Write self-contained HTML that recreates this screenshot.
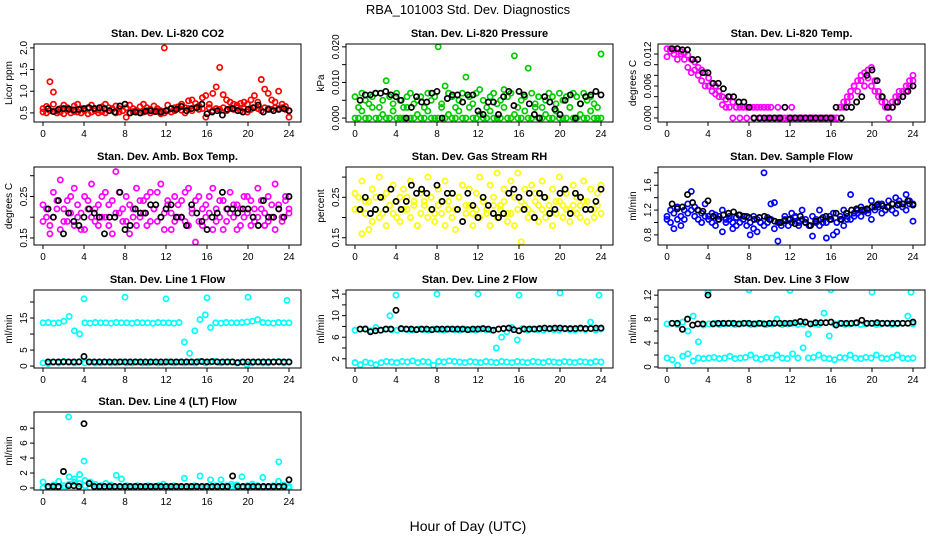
<!DOCTYPE html>
<html><head><meta charset="utf-8"><style>
body{margin:0;background:#fff}
svg{display:block;font-family:"Liberation Sans",sans-serif}
</style></head><body>
<svg id="c" width="936" height="540" viewBox="0 0 936 540">
<rect width="936" height="540" fill="#fff"/>
<text x="468" y="14" text-anchor="middle" font-size="13">RBA_101003  Std. Dev. Diagnostics</text>
<text x="468" y="531" text-anchor="middle" font-size="14">Hour of Day (UTC)</text>
</svg>
<script>
const xTicks=[0,4,8,12,16,20,24];
// CO2
const co2A=[0.6,0.65,1.22,0.7,0.55,0.6,0.68,0.62,0.58,0.66,0.7,0.6,0.55,0.62,0.68,0.6,0.57,0.64,0.7,0.62,0.58,0.66,0.6,0.55,0.62,0.68,0.6,0.52,0.64,0.7,0.62,0.58,0.66,0.6,0.55,2.0,0.68,0.6,0.62,0.64,0.7,0.62,0.78,0.8,0.72,0.66,0.85,0.9,0.7,0.95,1.1,1.55,0.92,0.8,0.75,0.7,0.68,0.72,0.75,0.7,0.8,0.9,0.75,1.27,1.05,0.95,0.8,0.75,1.0,0.7,0.65,0.4];
const co2B=[0.52,0.5,0.55,0.98,0.5,0.52,0.48,0.55,0.5,0.53,0.52,0.5,0.56,0.48,0.52,0.55,0.5,0.53,0.5,0.55,0.6,0.5,0.52,0.55,0.4,0.5,0.53,0.56,0.5,0.52,0.55,0.5,0.53,0.55,0.48,0.5,0.55,0.52,0.55,0.6,0.56,0.5,0.6,0.55,0.62,0.58,0.6,0.4,0.62,0.55,0.6,0.58,0.62,0.55,0.6,0.58,0.62,0.55,0.6,0.52,0.58,0.62,0.6,0.55,0.62,0.6,0.58,0.62,0.6,0.62,0.58,0.55];
const co2K=[0.6,0.53,0.58,0.6,0.59,0.57,0.58,0.6,0.62,0.6,0.62,0.6,0.55,0.52,0.66,0.7,0.5,0.52,0.5,0.54,0.55,0.53,0.52,0.55,0.6,0.58,0.65,0.55,0.6,0.62,0.7,0.48,0.52,0.55,0.45,0.58,0.6,0.55,0.52,0.58,0.62,0.68,0.52,0.58,0.55,0.58,0.6,0.55];
// Pressure
const prA=[0.006,0.003,0.007,0.005,0.004,0.006,0.007,0.003,0.005,0.0105,0.006,0.004,0.007,0.005,0.003,0.006,0.007,0.004,0.005,0.006,0.003,0.007,0.005,0.006,0.02,0.004,0.009,0.007,0.006,0.003,0.005,0.007,0.0115,0.006,0.004,0.007,0.008,0.005,0.003,0.006,0.007,0.004,0.005,0.008,0.006,0.007,0.0175,0.003,0.005,0.006,0.014,0.007,0.004,0.006,0.003,0.005,0.007,0.006,0.004,0.007,0.005,0.006,0.003,0.007,0.006,0.004,0.007,0.005,0.006,0.004,0.003,0.018];
const prB=[0,0,0.002,0,0,0.003,0,0,0.001,0,0,0.002,0,0,0,0.003,0,0,0.001,0,0,0.002,0,0,0,0.003,0,0.001,0,0,0.002,0,0,0.003,0,0,0.001,0,0,0.002,0,0,0,0.003,0,0,0.001,0,0,0.002,0,0,0.003,0,0,0.001,0,0,0.002,0,0,0,0.003,0,0,0.001,0,0,0.002,0,0,0];
const prK=[0.005,0.0065,0.0065,0.007,0.007,0.0075,0.0065,0.006,0.005,0,0.003,0.006,0.0045,0.0045,0.007,0.0075,0,0.0055,0.0065,0.0065,0.0045,0.0065,0.0065,0.002,0.001,0.0045,0.0045,0.001,0.006,0.0075,0.0035,0.0075,0.0065,0.004,0.001,0,0.006,0.0045,0.0025,0.001,0.005,0.0065,0,0.004,0.006,0.0065,0.0075,0.0065];
// Li-820 temp
const ltA=[0.0115,0.013,0.0128,0.013,0.0125,0.0122,0.0118,0.011,0.0105,0.0095,0.009,0.0085,0.0075,0.0065,0.006,0.005,0.004,0.0035,0.004,0.003,0.002,0.002,0.002,0.002,0.002,0.002,0.002,0.002,0.002,0.002,0.002,0,0.002,0,0.002,0,0.002,0,0,0,0,0,0,0,0,0,0,0,0,0,0.002,0.003,0.004,0.005,0.006,0.007,0.008,0.0085,0.009,0.0095,0.007,0.005,0.004,0.003,0.002,0.003,0.004,0.005,0.005,0.006,0.007,0.008];
const ltB=[0.013,0.0125,0.012,0.011,0.012,0.011,0.0095,0.0085,0.009,0.008,0.007,0.006,0.006,0.005,0.0045,0.004,0.0025,0.002,0.002,0,0.002,0,0.002,0,0.002,0,0.002,0,0,0,0,0,0,0,0,0,0,0,0,0,0,0,0,0,0,0,0,0,0,0,0.002,0.002,0.003,0.004,0.006,0.005,0.007,0.006,0.0075,0.006,0.005,0.004,0.003,0.002,0,0.002,0.003,0.004,0.004,0.005,0.006,0.007];
const ltK=[0.013,0.013,0.0128,0.0128,0.011,0.011,0.0085,0.0085,0.0065,0.0065,0.0055,0.004,0.004,0.003,0.003,0.002,0,0,0,0,0,0,0.002,0,0,0,0,0,0,0,0,0,0.002,0,0.002,0.002,0.003,0.004,0.008,0.009,0.007,0.004,0.002,0.002,0.003,0.004,0.005,0.006];
// Amb box temp
const abA=[0.23,0.2,0.18,0.26,0.22,0.29,0.19,0.24,0.21,0.27,0.2,0.17,0.25,0.22,0.28,0.19,0.23,0.2,0.26,0.18,0.24,0.31,0.21,0.19,0.25,0.16,0.22,0.27,0.2,0.24,0.18,0.26,0.22,0.19,0.28,0.21,0.23,0.17,0.25,0.2,0.24,0.19,0.27,0.22,0.14,0.25,0.18,0.23,0.21,0.27,0.19,0.24,0.17,0.22,0.26,0.2,0.23,0.18,0.25,0.21,0.24,0.19,0.27,0.22,0.18,0.25,0.2,0.28,0.23,0.19,0.24,0.21];
const abB=[0.19,0.22,0.16,0.2,0.24,0.17,0.22,0.19,0.25,0.18,0.23,0.21,0.17,0.24,0.2,0.22,0.18,0.25,0.2,0.23,0.16,0.21,0.26,0.22,0.19,0.23,0.2,0.18,0.24,0.21,0.25,0.19,0.22,0.26,0.2,0.17,0.24,0.21,0.19,0.23,0.2,0.26,0.18,0.21,0.24,0.19,0.22,0.2,0.25,0.17,0.22,0.2,0.24,0.19,0.21,0.23,0.17,0.22,0.2,0.25,0.18,0.22,0.2,0.24,0.21,0.19,0.23,0.17,0.22,0.2,0.25,0.22];
const abK=[0.22,0.2,0.24,0.16,0.21,0.19,0.18,0.2,0.22,0.21,0.2,0.16,0.2,0.2,0.26,0.17,0.18,0.22,0.21,0.21,0.23,0.23,0.2,0.22,0.23,0.2,0.2,0.18,0.23,0.21,0.19,0.17,0.2,0.21,0.26,0.22,0.22,0.21,0.22,0.22,0.2,0.18,0.24,0.2,0.2,0.22,0.2,0.25];
// Gas stream RH
const rhA=[0.26,0.22,0.29,0.24,0.17,0.27,0.25,0.3,0.21,0.26,0.23,0.28,0.2,0.25,0.27,0.22,0.29,0.24,0.18,0.26,0.23,0.3,0.25,0.21,0.27,0.24,0.29,0.22,0.26,0.17,0.25,0.28,0.23,0.27,0.21,0.26,0.3,0.24,0.22,0.28,0.25,0.31,0.23,0.27,0.21,0.29,0.25,0.31,0.24,0.27,0.22,0.28,0.26,0.23,0.29,0.25,0.21,0.27,0.24,0.3,0.23,0.26,0.22,0.28,0.25,0.23,0.29,0.24,0.27,0.22,0.26,0.28];
const rhB=[0.22,0.25,0.16,0.21,0.24,0.19,0.22,0.2,0.25,0.18,0.23,0.21,0.24,0.19,0.22,0.25,0.2,0.23,0.18,0.21,0.24,0.2,0.22,0.19,0.23,0.21,0.18,0.24,0.2,0.22,0.25,0.19,0.21,0.23,0.18,0.22,0.2,0.24,0.21,0.18,0.23,0.2,0.22,0.24,0.19,0.21,0.18,0.22,0.14,0.23,0.2,0.21,0.24,0.19,0.22,0.2,0.23,0.18,0.21,0.24,0.2,0.22,0.19,0.23,0.21,0.2,0.24,0.19,0.22,0.2,0.23,0.21];
const rhK=[0.22,0.25,0.21,0.22,0.25,0.22,0.27,0.24,0.22,0.24,0.28,0.26,0.27,0.26,0.22,0.28,0.24,0.26,0.26,0.22,0.19,0.26,0.23,0.2,0.25,0.23,0.21,0.2,0.21,0.26,0.27,0.25,0.22,0.26,0.2,0.26,0.25,0.21,0.22,0.26,0.27,0.21,0.26,0.25,0.22,0.22,0.24,0.27];
// Sample flow
const sfA=[1.1,1.2,1.15,1.25,0.95,1.2,1.3,1.5,1.25,1.2,1.15,1.3,1.1,1.15,1.12,1.1,1.2,1.05,1.1,0.9,1.08,1.12,1.05,1.1,0.8,1.1,1.05,1.0,1.8,1.08,1.05,1.32,1.0,0.95,1.1,1.05,1.15,1.08,1.0,1.2,1.05,0.95,1.1,1.05,1.2,1.08,1.0,1.1,1.15,0.85,1.1,1.2,1.05,1.45,1.15,1.2,1.25,1.18,1.2,1.35,1.25,1.3,1.3,1.2,1.35,1.3,1.4,1.35,1.3,1.45,1.35,1.3];
const sfB=[1.05,1.0,0.9,1.05,1.1,1.05,1.15,1.2,1.1,1.05,1.0,1.1,1.05,1.0,0.95,1.05,0.85,1.0,1.05,1.0,0.95,1.0,1.05,0.95,1.0,0.9,0.85,1.0,0.95,1.0,1.3,0.9,0.7,1.0,1.05,0.95,1.0,1.1,0.95,1.05,1.0,0.95,0.78,1.0,0.95,1.0,0.75,1.05,0.8,1.0,1.05,0.95,1.1,1.05,1.1,1.15,1.1,1.2,1.15,1.05,1.2,1.25,1.15,1.2,1.25,1.2,1.15,1.3,1.25,1.2,1.3,1.02];
const sfK=[1.3,1.22,1.25,1.45,1.32,1.2,1.18,1.35,1.1,1.05,1.12,1.15,1.17,1.12,1.1,1.08,1.05,1.08,1.1,1.05,1.02,1.0,1.03,1.05,0.98,1.1,1.0,0.95,1.02,1.05,1.1,1.05,1.15,1.05,1.15,1.2,1.22,1.2,1.22,1.25,1.28,1.27,1.25,1.3,1.28,1.3,1.35,1.28];
// Line 1 flow
const l1A=[13.5,13.6,13.4,13.5,14,15.5,11,10,13.5,13.4,13.6,13.5,13.5,13.4,13.6,13.5,13.5,13.4,13.6,13.5,13.5,13.4,13.6,13.5,13.5,13.4,13.6,7.5,4,11,14.5,16,12,13.5,13.4,13.6,13.5,13.5,13.6,13.8,14,14.5,13.6,13.5,13.4,13.6,13.5,13.5];
const l1B=[1,0.8,1.2,1,1.5,1.2,1,1.4,1,1.2,1,1,1.2,1,1,1.3,1,1,1.2,1,1,1.2,1,1,1.3,1,1.2,1,1.2,1,1.5,1,1.2,1.5,1,1.2,1.3,1,1.2,0.5,1,1.2,1,1,1.2,1.5,1,1.2];
const l1K=[1.3,1.3,1.3,1.3,1.3,1.3,1.3,3,1.3,1.3,1.3,1.3,1.3,1.3,1.3,1.3,1.3,1.3,1.3,1.3,1.3,1.3,1.3,1.3,1.3,1.3,1.3,1.3,1.3,1.3,1.4,1.3,1.4,1.3,1.3,1.3,1.3,1.1,1.3,1.3,1.3,1.3,1.3,1.3,1.3,1.3,1.3,1.3];
const l1OH=[4,8,12,16,20,23.8];
const l1OV=[21,21.5,21,21.3,21.5,20.5];
// Line 2 flow
const l2A=[7.3,7.5,7.6,7.2,7.8,7.3,7.5,7.4,7.3,7.5,7.4,7.3,7.5,7.4,7.3,7.5,7.4,7.3,7.5,7.4,7.3,7.5,7.4,7.3,7.5,7.4,7.3,4,6,7,7.8,5.5,7.6,7.3,7.5,7.4,7.3,7.5,7.4,7.3,7.5,7.4,7.3,7.5,7.4,8.8,7.3,7.5];
const l2B=[1.3,0.9,1.4,1.2,0.9,1.3,1.5,1.4,1.3,1.5,1.4,1.6,1.3,1.5,1.4,0.8,1.5,1.4,1.6,1.5,1.4,1.3,1.5,1.4,1.3,1.5,1.4,1.3,1.5,1.4,1.3,1.5,1.4,1.3,1.5,1.4,1.3,1.5,1.4,1.3,1.5,1.4,1.3,1.5,1.4,1.3,1.5,1.4];
const l2K=[7.5,7.5,7,7.2,7.3,7.5,7.5,11,7.6,7.5,7.5,7.4,7.5,7.5,7.4,7.5,7.5,7.5,7.5,7.5,7.5,7.4,7.5,7.5,7.6,7.5,7.3,7.5,7.6,7.7,7.4,7.2,7.5,7.5,7.5,7.6,7.7,7.6,7.7,7.7,7.6,7.6,7.6,7.7,7.6,7.6,7.7,7.7];
const l2OH=[3.4,4,8,12,16,20,23.8];
const l2OV=[10,13.8,14,14,13.8,14.2,13.8];
// Line 3 flow
const l3A=[7.2,7.3,7.1,7.5,6,8.5,4.2,7,7.2,7.3,7.1,7.2,7.3,7.1,7.2,7.3,7.1,7.2,7.3,7.1,7.2,8,7.1,7.2,7.3,7.1,7.2,5.5,7.2,7.1,9,5.2,7.2,7.3,7.1,7.2,7.3,7.1,7.2,7.3,7.1,7.2,7.3,7.1,7.2,7.3,8.5,7.2];
const l3B=[1.5,1.2,0.3,1.8,2.2,1,1.5,1.4,1.5,1.6,1.4,1.5,1.8,1.4,1.5,1.6,2,1.5,1.3,1.6,1.5,2,1.5,1.4,2.2,1.5,3.2,1.5,1.6,2,1.5,1.4,1.2,1.6,1.5,2,1.5,1.4,1.6,1.5,2,1.5,1.4,1.6,2,1.5,1.4,1.5];
const l3K=[7.3,7.3,6.3,8,7,7.2,7.2,12,7.2,7.3,7.3,7.3,7.3,7.2,7.3,7.3,7.2,7.3,7.2,7.3,7.3,7.3,7.3,7.3,7.4,7.6,7.5,7.2,7.4,7.4,7.4,7.5,7,7.3,7.3,7.3,7.4,7.8,7.3,7.3,7.4,7.3,7.3,7.3,7.3,7.3,7.3,7.5];
const l3OH=[4,8,12,16,20,23.8];
const l3OV=[12.5,12.9,12.8,12.9,12.5,12.5];
// Line 4 flow
const l4A=[0.8,0.2,0.4,0.9,0.3,1.5,1.2,1.8,1.0,0.8,0.5,0.3,0.6,0.4,1.7,1.2,0.3,0.2,0.3,0.2,0.3,0.2,0.3,0.5,0.2,0.3,0.2,1.3,0.2,0.3,1.6,0.2,1.1,0.3,1.1,0.3,0.2,0.4,1.5,0.3,0.5,0.3,1.4,0.2,0.3,0.9,0.4,0.2];
const l4B=[0,0,0,0,0,0.5,0.8,0.6,0.3,0,0,0,0,0,0,0,0,0,0,0,0,0,0,0,0,0,0,0,0,0,0,0,0,0,0,0,0.5,0,0,0,0,0,0,0,0,0,0,0];
const l4K=[0.2,0.2,0.2,2.2,0.3,0.3,0.2,8.6,0.6,0.2,0.2,0.2,0.2,0.2,0.2,0.2,0.2,0.2,0.2,0.2,0.2,0.2,0.2,0.2,0.2,0.2,0.2,0.2,0.2,0.2,0.2,0.2,0.2,0.2,0.2,0.2,1.6,0.2,0.2,0.2,0.2,0.2,0.2,0.2,0.2,0.2,0.2,1.1];
const l4OH=[2.5,4,23];
const l4OV=[9.5,3.6,3.5];

const panels=[
 {n:'co2',c:0,r:0,t:'Stan. Dev. Li-820 CO2',yl:'Licor ppm',lo:0.29,hi:2.09,tk:[0.5,1,1.5,2],lb:['0.5','1.0','1.5','2.0'],col:'#ff0000',A:co2A,B:co2B,K:co2K},
 {n:'pressure',c:1,r:0,t:'Stan. Dev. Li-820 Pressure',yl:'kPa',lo:-0.0011,hi:0.0208,tk:[0,0.005,0.01,0.015,0.02],lb:['0.000','','0.010','','0.020'],col:'#00cc00',A:prA,B:prB,K:prK},
 {n:'licor-temp',c:2,r:0,t:'Stan. Dev. Li-820 Temp.',yl:'degrees C',lo:-0.00075,hi:0.01388,tk:[0,0.002,0.004,0.006,0.008,0.01,0.012],lb:['0.000','','','0.006','','','0.012'],col:'#ff00ff',A:ltA,B:ltB,K:ltK},
 {n:'amb-box-temp',c:0,r:1,t:'Stan. Dev. Amb. Box Temp.',yl:'degrees C',lo:0.133,hi:0.321,tk:[0.15,0.2,0.25,0.3],lb:['0.15','','0.25',''],col:'#ff00ff',A:abA,B:abB,K:abK},
 {n:'gas-stream-rh',c:1,r:1,t:'Stan. Dev. Gas Stream RH',yl:'percent',lo:0.132,hi:0.325,tk:[0.15,0.2,0.25,0.3],lb:['0.15','','0.25',''],col:'#ffff00',A:rhA,B:rhB,K:rhK},
 {n:'sample-flow',c:2,r:1,t:'Stan. Dev. Sample Flow',yl:'ml/min',lo:0.637,hi:1.894,tk:[0.8,1,1.2,1.4,1.6,1.8],lb:['0.8','','1.2','','1.6',''],col:'#0000ff',A:sfA,B:sfB,K:sfK},
 {n:'line1-flow',c:0,r:2,t:'Stan. Dev. Line 1 Flow',yl:'ml/min',lo:-0.6,hi:23.75,tk:[0,5,10,15,20],lb:['0','5','','15',''],col:'#00ffff',A:l1A,B:l1B,K:l1K,OH:l1OH,OV:l1OV},
 {n:'line2-flow',c:1,r:2,t:'Stan. Dev. Line 2 Flow',yl:'ml/min',lo:0.29,hi:14.76,tk:[2,4,6,8,10,12,14],lb:['2','','6','','10','','14'],col:'#00ffff',A:l2A,B:l2B,K:l2K,OH:l2OH,OV:l2OV},
 {n:'line3-flow',c:2,r:2,t:'Stan. Dev. Line 3 Flow',yl:'ml/min',lo:-0.17,hi:12.86,tk:[0,2,4,6,8,10,12],lb:['0','','4','','8','','12'],col:'#00ffff',A:l3A,B:l3B,K:l3K,OH:l3OH,OV:l3OV},
 {n:'line4-flow',c:0,r:3,t:'Stan. Dev. Line 4 (LT) Flow',yl:'ml/min',lo:-0.27,hi:10.16,tk:[0,2,4,6,8],lb:['0','2','4','6','8'],col:'#00ffff',A:l4A,B:l4B,K:l4K,OH:l4OH,OV:l4OV}
];
const NS='http://www.w3.org/2000/svg';
const svg=document.getElementById('c');
function mk(tag,at,parent){const e=document.createElementNS(NS,tag);for(const k in at)e.setAttribute(k,at[k]);parent.appendChild(e);return e;}
const rowTop=[44,167,290,412];
panels.forEach(p=>{
  const x0=34+312*p.c, x1=x0+267, y0=rowTop[p.r], y1=y0+78;
  const X=h=>x0+9+h*10.25;
  const Y=v=>y1-(v-p.lo)/(p.hi-p.lo)*(y1-y0);
  const g=mk('g',{},svg);
  
  
  const tt=mk('text',{x:(x0+x1)/2,y:y0-7,'text-anchor':'middle','font-size':11,'font-weight':'bold'},g);
  tt.textContent=p.t;
  
  
  const yt=mk('text',{x:0,y:0,'text-anchor':'middle','font-size':10,transform:`translate(${x0-22},${(y0+y1)/2}) rotate(-90)`},g);
  yt.textContent=p.yl;
  
  
  const cl='clip-'+p.n;
  const cp=mk('clipPath',{id:cl},g); mk('rect',{x:x0,y:y0,width:x1-x0,height:y1-y0},cp);
  const pts=mk('g',{'clip-path':`url(#${cl})`,fill:'none','stroke-width':1.7},g);
  
  
  function dot(h,v,color,nm){
    const e=mk('circle',{cx:X(h).toFixed(1),cy:Y(v).toFixed(1),r:2.6,stroke:color},pts);
    
    
  }
  [p.B,p.A].forEach(arr=>arr.forEach((v,i)=>dot(i*24/(arr.length-1),v,p.col,'point')));
  if(p.OH) p.OH.forEach((h,i)=>dot(h,p.OV[i],p.col,'outlier-point'));
  p.K.forEach((v,i)=>dot(0.5+i*0.5,v,'#000','mean-point'));
  const box=mk('rect',{x:x0,y:y0,width:x1-x0,height:y1-y0,fill:'none',stroke:'#000','stroke-width':1},g);
  
  
  xTicks.forEach(h=>{
    mk('line',{x1:X(h),x2:X(h),y1:y1,y2:y1+4,stroke:'#000'},g);
    const t=mk('text',{x:X(h),y:y1+15,'text-anchor':'middle','font-size':10},g);
    t.textContent=h;
    
    
  });
  p.tk.forEach((v,i)=>{
    mk('line',{x1:x0-4,x2:x0,y1:Y(v),y2:Y(v),stroke:'#000'},g);
    if(p.lb[i]){
      const t=mk('text',{x:0,y:0,'text-anchor':'middle','font-size':10,transform:`translate(${x0-7},${Y(v)}) rotate(-90)`},g);
      t.textContent=p.lb[i];
      
      
    }
  });
});
</script>
</body></html>
